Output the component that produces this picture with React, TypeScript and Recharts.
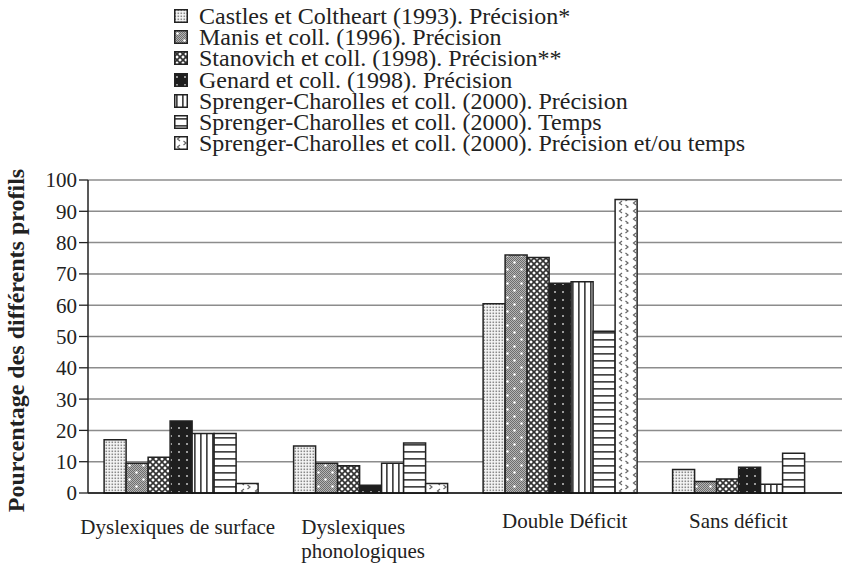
import React from 'react';
import { BarChart, Bar, XAxis, YAxis, CartesianGrid, Legend } from 'recharts';

const categories = ['Dyslexiques de surface', 'Dyslexiques\nphonologiques', 'Double Déficit', 'Sans déficit'];
const seriesNames = [
  'Castles et Coltheart (1993). Précision*',
  'Manis et coll. (1996). Précision',
  'Stanovich et coll. (1998). Précision**',
  'Genard et coll. (1998). Précision',
  'Sprenger-Charolles et coll. (2000). Précision',
  'Sprenger-Charolles et coll. (2000). Temps',
  'Sprenger-Charolles et coll. (2000). Précision et/ou temps',
];
const castles = [17, 15, 60.5, 7.5];
const manis = [9.5, 9.5, 76, 3.7];
const stanovich = [11.4, 8.7, 75.2, 4.5];
const genard = [23, 2.5, 67, 8.2];
const sprengerPrecision = [19, 9.5, 67.5, 2.8];
const sprengerTemps = [19, 16, 51.7, 12.7];
const sprengerPrecisionTemps = [3, 3, 93.8, 0];
const yTicks = [0, 10, 20, 30, 40, 50, 60, 70, 80, 90, 100];
const boundaryTicks = [0, 1, 2, 3, 4];

const seriesValues = [castles, manis, stanovich, genard, sprengerPrecision, sprengerTemps, sprengerPrecisionTemps];
const patternIds = ['patCastles', 'patManis', 'patStanovich', 'patGenard', 'patVert', 'patHoriz', 'patChevron'];

const SERIF = '"Liberation Serif", "Times New Roman", serif';
const INK = '#222';

const data = categories.map((c, i) => {
  const row: Record<string, string | number> = { category: c };
  seriesValues.forEach((vals, s) => {
    row['s' + s] = vals[i];
  });
  return row;
});

const Patterns = () => (
  <svg width={0} height={0} style={{ position: 'absolute', left: 0, top: 0 }}>
    <defs>
      <pattern id="patCastles" patternUnits="userSpaceOnUse" width={3} height={3}>
        <rect width={3} height={3} fill="#f6f6f6" />
        <rect x={0.5} y={0.5} width={1.6} height={1.6} fill="#8a8a8a" />
      </pattern>
      <pattern id="fineChecker" patternUnits="userSpaceOnUse" width={2} height={2}>
        <rect width={2} height={2} fill="#b4b4b4" />
        <rect x={0} y={0} width={1} height={1} fill="#6e6e6e" />
        <rect x={1} y={1} width={1} height={1} fill="#6e6e6e" />
      </pattern>
      <pattern id="patManis" patternUnits="userSpaceOnUse" width={14} height={14}>
        <rect width={14} height={14} fill="url(#fineChecker)" />
        <circle cx={3.5} cy={3.5} r={1.3} fill="#fff" />
        <circle cx={10.5} cy={10.5} r={1.3} fill="#fff" />
      </pattern>
      <pattern id="patStanovich" patternUnits="userSpaceOnUse" width={6} height={6}>
        <rect width={6} height={6} fill="#fff" />
        <path d="M0,0 L6,6 M6,0 L0,6" stroke="#333" strokeWidth={1.7} />
      </pattern>
      <pattern id="patGenard" patternUnits="userSpaceOnUse" width={8} height={8}>
        <rect width={8} height={8} fill="#1e1e1e" />
        <rect x={2} y={3} width={2} height={2} fill="#9a9a9a" />
      </pattern>
      <pattern id="patVert" patternUnits="userSpaceOnUse" width={6} height={6}>
        <rect width={6} height={6} fill="#fff" />
        <rect x={2} y={0} width={1.7} height={6} fill="#444" />
      </pattern>
      <pattern id="patHoriz" patternUnits="userSpaceOnUse" width={6} height={7}>
        <rect width={6} height={7} fill="#fff" />
        <rect x={0} y={3} width={6} height={1.7} fill="#444" />
      </pattern>
      <pattern id="patChevron" patternUnits="userSpaceOnUse" width={14} height={16}>
        <rect width={14} height={16} fill="#fff" />
        <path d="M6,1 L3.5,3 L6,5" stroke="#666" strokeWidth={1.2} fill="none" />
        <path d="M9.5,5 L12,7 L9.5,9" stroke="#666" strokeWidth={1.2} fill="none" />
        <path d="M6,9 L3.5,11 L6,13" stroke="#666" strokeWidth={1.2} fill="none" />
        <path d="M9.5,13 L12,15 L9.5,17" stroke="#666" strokeWidth={1.2} fill="none" />
      </pattern>
    </defs>
  </svg>
);

// small per-label nudges to mimic the original figure's label placement
const labelDx = [-5, 0, 3, -13];
const labelBase = [41, 41, 35, 35];

const CategoryTick = (props: any) => {
  const { x, y, payload, index } = props;
  const lines = String(payload.value).split('\n');
  const multi = lines.length > 1;
  const tx = multi ? x - 71 : x + (labelDx[index] || 0);
  const base = labelBase[index] ?? 38;
  return (
    <text x={tx} y={y + base} textAnchor={multi ? 'start' : 'middle'} fontFamily={SERIF} fontSize={21} fill={INK}>
      {lines.map((l, i) => (
        <tspan key={i} x={tx} dy={i === 0 ? 0 : 24}>
          {l}
        </tspan>
      ))}
    </text>
  );
};

const YTitle = (props: any) => {
  const vb = props.viewBox || { x: 0, y: 0, width: 0, height: 0 };
  const cx = vb.x + 24;
  const cy = vb.y + vb.height / 2 + 4;
  return (
    <text
      transform={`translate(${cx},${cy}) rotate(-90)`}
      textAnchor="middle"
      fontFamily={SERIF}
      fontWeight="bold"
      fontSize={24}
      fill={INK}
    >
      Pourcentage des différents profils
    </text>
  );
};

const LegendContent = (props: any) => {
  const payload = props.payload || [];
  return (
    <div style={{ fontFamily: SERIF, fontSize: 24, color: INK }}>
      {payload.map((entry: any, i: number) => (
        <div key={i} style={{ display: 'flex', alignItems: 'center', height: 21.3, whiteSpace: 'nowrap' }}>
          <svg width={14} height={14} style={{ flex: 'none' }}>
            <rect x={0.75} y={0.75} width={12.5} height={12.5} fill={entry.color} stroke={INK} strokeWidth={1.5} />
          </svg>
          <span style={{ marginLeft: 11, display: 'inline-block', height: 20, lineHeight: '20px', overflow: 'visible' }}>
            {entry.value}
          </span>
        </div>
      ))}
    </div>
  );
};

export default function App() {
  return (
    <div style={{ position: 'absolute', left: 0, top: 0, width: 842, height: 563, overflow: 'hidden', background: '#fff' }}>
      <Patterns />
      <BarChart
        width={850}
        height={563}
        data={data}
        margin={{ top: 180, right: 4, bottom: 0, left: 0 }}
        barCategoryGap="8.5%"
        barGap={0}
      >
        <CartesianGrid vertical={false} stroke="#8c8c8c" strokeWidth={1.5} />
        <XAxis
          xAxisId="b"
          type="number"
          domain={[0, 4]}
          ticks={boundaryTicks}
          allowDataOverflow
          tick={false}
          tickSize={7}
          tickLine={{ stroke: INK, strokeWidth: 1.3 }}
          axisLine={false}
          height={0}
        />
        <XAxis
          dataKey="category"
          tickLine={false}
          axisLine={{ stroke: '#111', strokeWidth: 1.5 }}
          tick={<CategoryTick />}
          interval={0}
          height={70}
          tickSize={0}
          tickMargin={0}
        />
        <YAxis
          domain={[0, 100]}
          ticks={yTicks}
          interval={0}
          width={88}
          tickSize={9}
          tickMargin={2}
          tick={{ fontFamily: SERIF, fontSize: 21, fill: INK }}
          tickLine={{ stroke: INK, strokeWidth: 1.3 }}
          axisLine={{ stroke: INK, strokeWidth: 1.5 }}
          label={{ content: YTitle }}
        />
        <Legend
          layout="vertical"
          align="center"
          verticalAlign="middle"
          itemSorter="dataKey"
          wrapperStyle={{ position: 'absolute', top: 5, left: 174, width: 'auto', height: 'auto' }}
          content={<LegendContent />}
        />
        {seriesNames.map((name, s) => (
          <Bar
            key={name}
            dataKey={'s' + s}
            name={name}
            fill={`url(#${patternIds[s]})`}
            stroke={INK}
            strokeWidth={1.5}
            isAnimationActive={false}
          />
        ))}
      </BarChart>
    </div>
  );
}
